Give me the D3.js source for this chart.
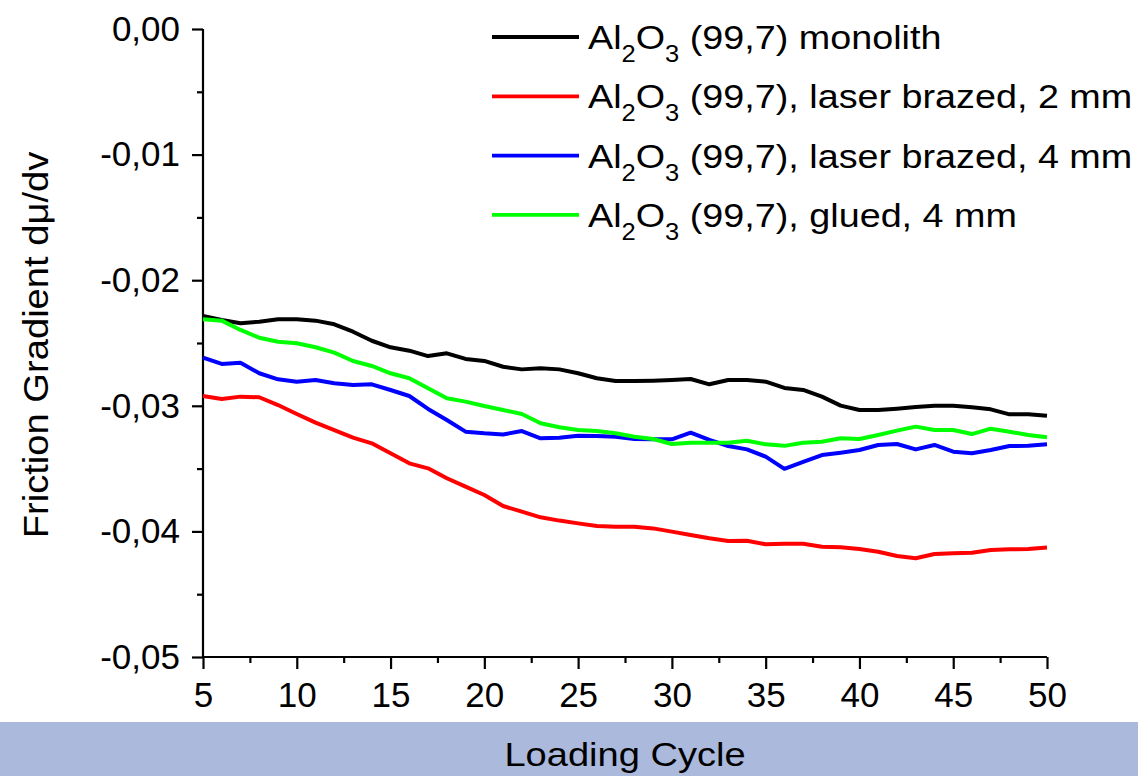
<!DOCTYPE html>
<html>
<head>
<meta charset="utf-8">
<script src="https://cdn.jsdelivr.net/npm/d3@7"></script>
<style>
  body { margin: 0; background: #fff; }
  svg { display: block; font-family: "Liberation Sans", Arial, sans-serif; }
</style>
</head>
<body>
<div id="chart"></div>
<script>
// data
const cycles = d3.range(5, 51);

const monolith = [
  -0.02285, -0.02317, -0.02343, -0.02330, -0.02311, -0.02311, -0.02322, -0.02351, -0.02410, -0.02482,
  -0.02534, -0.02561, -0.02604, -0.02582, -0.02627, -0.02643, -0.02689, -0.02710, -0.02702, -0.02710,
  -0.02741, -0.02781, -0.02803, -0.02803, -0.02800, -0.02795, -0.02787, -0.02829, -0.02795, -0.02795,
  -0.02808, -0.02858, -0.02874, -0.02927, -0.02999, -0.03033, -0.03033, -0.03023, -0.03010, -0.02999,
  -0.02999, -0.03012, -0.03028, -0.03068, -0.03068, -0.03079
];
const brazed2 = [
  -0.02922, -0.02946, -0.02927, -0.02932, -0.02994, -0.03065, -0.03134, -0.03193, -0.03254, -0.03299,
  -0.03378, -0.03458, -0.03498, -0.03577, -0.03644, -0.03710, -0.03798, -0.03843, -0.03888, -0.03914,
  -0.03936, -0.03957, -0.03963, -0.03963, -0.03976, -0.04002, -0.04029, -0.04055, -0.04076, -0.04074,
  -0.04103, -0.04098, -0.04098, -0.04122, -0.04127, -0.04140, -0.04162, -0.04196, -0.04214, -0.04180,
  -0.04174, -0.04170, -0.04148, -0.04143, -0.04140, -0.04129
];
const brazed4 = [
  -0.02617, -0.02667, -0.02657, -0.02741, -0.02789, -0.02808, -0.02795, -0.02821, -0.02834, -0.02829,
  -0.02874, -0.02922, -0.03025, -0.03113, -0.03206, -0.03219, -0.03228, -0.03201, -0.03259, -0.03254,
  -0.03238, -0.03240, -0.03246, -0.03264, -0.03267, -0.03267, -0.03214, -0.03272, -0.03320, -0.03347,
  -0.03405, -0.03502, -0.03446, -0.03392, -0.03373, -0.03352, -0.03312, -0.03304, -0.03347, -0.03312,
  -0.03365, -0.03378, -0.03352, -0.03320, -0.03318, -0.03307
];
const glued4 = [
  -0.02311, -0.02322, -0.02396, -0.02458, -0.02490, -0.02502, -0.02534, -0.02577, -0.02643, -0.02683,
  -0.02741, -0.02781, -0.02861, -0.02940, -0.02967, -0.03002, -0.03033, -0.03065, -0.03139, -0.03171,
  -0.03193, -0.03201, -0.03219, -0.03246, -0.03264, -0.03304, -0.03294, -0.03294, -0.03294, -0.03278,
  -0.03307, -0.03319, -0.03294, -0.03286, -0.03259, -0.03264, -0.03232, -0.03198, -0.03166, -0.03193,
  -0.03193, -0.03225, -0.03182, -0.03206, -0.03232, -0.03251
];

const seriesNames = [
  "(99,7) monolith",
  "(99,7), laser brazed, 2 mm",
  "(99,7), laser brazed, 4 mm",
  "(99,7), glued, 4 mm"
];
const seriesColors = ["#000000", "#ff0000", "#0000ff", "#00ff00"];
const seriesValues = [monolith, brazed2, brazed4, glued4];

const xTicks = [5, 10, 15, 20, 25, 30, 35, 40, 45, 50];
const xMinor = [7.5, 12.5, 17.5, 22.5, 27.5, 32.5, 37.5, 42.5, 47.5];
const yTicks = [0, -0.01, -0.02, -0.03, -0.04, -0.05];
const yMinor = [-0.005, -0.015, -0.025, -0.035, -0.045];

// init
const width = 1138, height = 776;
const svg = d3.select("#chart").append("svg")
  .attr("width", width).attr("height", height);

const plot = { left: 203, right: 1047, top: 29, bottom: 657 };

const x = d3.scaleLinear().domain([5, 50]).range([plot.left, plot.right]);
const y = d3.scaleLinear().domain([-0.05, 0]).range([plot.bottom, plot.top]);

const fmt = d => d3.format(".2f")(d).replace(".", ",").replace("−", "-");

// bottom band
svg.append("rect")
  .attr("x", 0).attr("y", 722)
  .attr("width", width).attr("height", height - 722)
  .attr("fill", "#abb9dc");

svg.append("text")
  .attr("transform", `translate(${(plot.left + plot.right) / 2},766) scale(1.12,1)`)
  .attr("text-anchor", "middle")
  .attr("font-size", 34)
  .text("Loading Cycle");

// axes
const xAxis = svg.append("g")
  .attr("transform", `translate(0,${plot.bottom})`)
  .call(d3.axisBottom(x).tickValues(xTicks).tickSize(12).tickPadding(13).tickFormat(d3.format("d")));
svg.append("g")
  .attr("transform", `translate(0,${plot.bottom})`)
  .call(d3.axisBottom(x).tickValues(xMinor).tickSize(6).tickFormat(""))
  .call(g => g.select(".domain").remove());

const yAxis = svg.append("g")
  .attr("transform", `translate(${plot.left},0)`)
  .call(d3.axisLeft(y).tickValues(yTicks).tickSize(11).tickPadding(12).tickFormat(fmt));
svg.append("g")
  .attr("transform", `translate(${plot.left},0)`)
  .call(d3.axisLeft(y).tickValues(yMinor).tickSize(6).tickFormat(""))
  .call(g => g.select(".domain").remove());

svg.selectAll(".tick line, .domain")
  .attr("stroke", "#000").attr("stroke-width", 2.2);
// plain axis lines without end caps
xAxis.select(".domain").attr("d", `M${plot.left},0H${plot.right}`);
yAxis.select(".domain").attr("d", `M0,${plot.top}V${plot.bottom}`);

svg.selectAll(".tick text")
  .attr("font-size", 35)
  .attr("fill", "#000")
  .style("font-family", '"Liberation Sans", Arial, sans-serif');

// y title
svg.append("text")
  .attr("transform", `translate(48,345) rotate(-90) scale(1.09,1)`)
  .attr("text-anchor", "middle")
  .attr("font-size", 35)
  .text("Friction Gradient dμ/dv");

// lines
const line = d3.line()
  .x((d, i) => x(cycles[i]))
  .y(d => y(d));

svg.append("g").selectAll("path")
  .data(seriesValues)
  .join("path")
  .attr("d", line)
  .attr("fill", "none")
  .attr("stroke", (d, i) => seriesColors[i])
  .attr("stroke-width", 4)
  .attr("stroke-linejoin", "round");

// legend
const legend = svg.append("g");
const rowH = 59.3;
seriesNames.forEach((name, i) => {
  const yy = 37 + i * rowH;
  legend.append("line")
    .attr("x1", 492).attr("x2", 579)
    .attr("y1", yy).attr("y2", yy)
    .attr("stroke", seriesColors[i])
    .attr("stroke-width", 3.8);
  const t = legend.append("text")
    .attr("transform", `translate(588,${yy + 12}) scale(1.11,1)`)
    .attr("font-size", 34);
  t.append("tspan").text("Al");
  t.append("tspan").attr("font-size", 23).attr("dy", 13).text("2");
  t.append("tspan").attr("dy", -13).text("O");
  t.append("tspan").attr("font-size", 23).attr("dy", 13).text("3");
  t.append("tspan").attr("dy", -13).text(" " + name);
});
</script>
</body>
</html>
